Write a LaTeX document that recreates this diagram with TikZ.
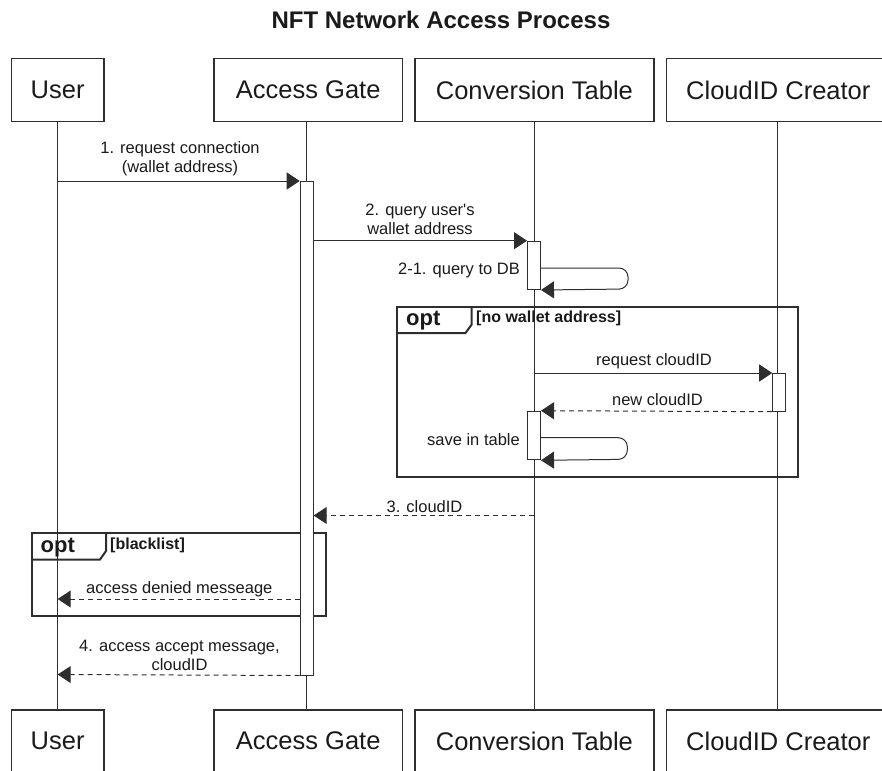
\documentclass[tikz,border=0pt]{standalone}
\usepackage{fontspec}
\setmainfont{Liberation Sans}
\usetikzlibrary{arrows.meta}
\definecolor{ln}{HTML}{2E2E2E}
\definecolor{tx}{HTML}{1A1A1A}
\begin{document}
\begin{tikzpicture}[x=1pt,y=-1pt,
  head/.style={draw=ln, line width=1.2pt, fill=white, minimum height=62.5pt, inner sep=0pt, anchor=north west, text=tx, font=\fontsize{25.5}{28}\selectfont},
  life/.style={draw=ln, line width=1pt},
  actbox/.style={draw=ln, line width=1pt, fill=white, minimum width=13pt, inner sep=0pt, anchor=north},
  msg/.style={draw=ln, line width=1pt, -{Triangle[length=13pt,width=17pt]}},
  retmsg/.style={msg, dash pattern=on 5pt off 4pt},
  lbl/.style={font=\fontsize{16.5}{19}\selectfont, align=center, inner sep=0pt, text=tx},
  frm/.style={draw=ln, line width=2pt},
  optlbl/.style={font=\bfseries\fontsize{22}{24}\selectfont, inner sep=0pt, anchor=west, text=tx},
  condlbl/.style={font=\bfseries\fontsize{16}{18}\selectfont, inner sep=0pt, anchor=west, text=tx},
  selfmsg/.style={draw=ln, line width=1pt, rounded corners=9pt, -{Triangle[length=13pt,width=17pt]}}
]
\useasboundingbox (0,0) rectangle (882,770);

% title
\node[font=\bfseries\fontsize{24}{26}\selectfont, text=tx] (title) at (441,20) {NFT Network Access Process};

% head boxes (top)
\node[head, minimum width=92.6pt] (ut) at (10.7,58.3) {User};
\node[head, minimum width=188.7pt] (at) at (213.3,58.3) {Access Gate};
\node[head, minimum width=239pt] (ct) at (414.3,58.3) {Conversion Table};
\node[head, minimum width=223.4pt] (dt) at (666,58.3) {CloudID Creator};
% head boxes (bottom)
\node[head, minimum width=92.6pt] (ub) at (10.7,709.3) {User};
\node[head, minimum width=188.7pt] (ab) at (213.3,709.3) {Access Gate};
\node[head, minimum width=239pt] (cb) at (414.3,709.3) {Conversion Table};
\node[head, minimum width=223.4pt] (db) at (666,709.3) {CloudID Creator};

% lifelines
\coordinate (ul) at (57.7,0);
\coordinate (al) at (306.7,0);
\coordinate (cl) at (534,0);
\coordinate (dl) at (777.7,0);
\draw[life] (ul |- ut.south) -- (ul |- ub.north);
\draw[life] (al |- at.south) -- (al |- ab.north);
\draw[life] (cl |- ct.south) -- (cl |- cb.north);
\draw[life] (dl |- dt.south) -- (dl |- db.north);

% frame 1: opt [no wallet address]
\coordinate (f1a) at (397,306.5);
\coordinate (f1b) at (798,477);
\draw[frm] (f1a) rectangle (f1b);
\draw[frm] (397,333) -- (465.5,333) -- (471.7,324.5) -- (471.7,306.5);
\node[optlbl] (opt1) at (406,321) {opt};
\node[condlbl] (cond1) at (476,318) {[no wallet address]};

% frame 2: opt [blacklist]
\coordinate (f2a) at (31.7,532.7);
\coordinate (f2b) at (326,616);
\draw[frm] (f2a) rectangle (f2b);
\draw[frm] (31.7,559.5) -- (100,559.5) -- (106,551) -- (106,532.7);
\node[optlbl] (opt2) at (40.5,547.5) {opt};
\node[condlbl] (cond2) at (110,545) {[blacklist]};

% activation bars
\node[actbox, minimum height=493.5pt] (a1) at (306.7,181) {};
\node[actbox, minimum height=48.3pt] (c1) at (534,240.7) {};
\node[actbox, minimum height=37.7pt] (d1) at (779.2,373) {};
\node[actbox, minimum height=48.6pt] (c2) at (534,410.7) {};

% 1. request connection
\coordinate (m1s) at (57.7,181);
\draw[msg] (m1s) -- (a1.north west);
\node[lbl] (l1) at (180,159) {1. request connection\\(wallet address)};

% 2. query user's wallet address
\draw[msg] (a1.east |- c1.north) -- (c1.north west);
\node[lbl] (l2) at (420,219.5) {2. query user\textquotesingle s\\wallet address};

% 2-1. query to DB (self)
\coordinate (s1a) at (c1.east |- 0,268);
\coordinate (s1r) at (628,268);
\draw[selfmsg] (s1a) -- (s1r) -- (628,289) -- (c1.south east);
\node[lbl, anchor=east] (l21) at (520,270) {2-1. query to DB};

% request cloudID
\coordinate (m3s) at (534,373);
\draw[msg] (m3s) -- (d1.north west);
\node[lbl] (l3) at (654,361.5) {request cloudID};

% new cloudID
\draw[retmsg] (d1.south west) -- (c2.north east);
\node[lbl] (l4) at (657.5,400) {new cloudID};

% save in table (self)
\coordinate (s2a) at (c2.east |- 0,437.7);
\draw[selfmsg] (s2a) -- (627.3,437.7) -- (627.3,459.3) -- (c2.south east);
\node[lbl, anchor=east] (l5) at (520,440) {save in table};

% 3. cloudID
\coordinate (m5s) at (534,515.5);
\draw[retmsg] (m5s) -- (a1.east |- m5s);
\node[lbl] (l6) at (424.5,506.5) {3. cloudID};

% access denied messeage
\coordinate (m6e) at (57.7,599);
\draw[retmsg] (a1.west |- m6e) -- (m6e);
\node[lbl] (l7) at (179.3,589) {access denied messeage};

% 4. access accept message, cloudID
\coordinate (m7e) at (57.7,674.5);
\draw[retmsg] (a1.south west) -- (m7e);
\node[lbl] (l8) at (179.5,655.3) {4. access accept message,\\cloudID};
\end{tikzpicture}
\end{document}
